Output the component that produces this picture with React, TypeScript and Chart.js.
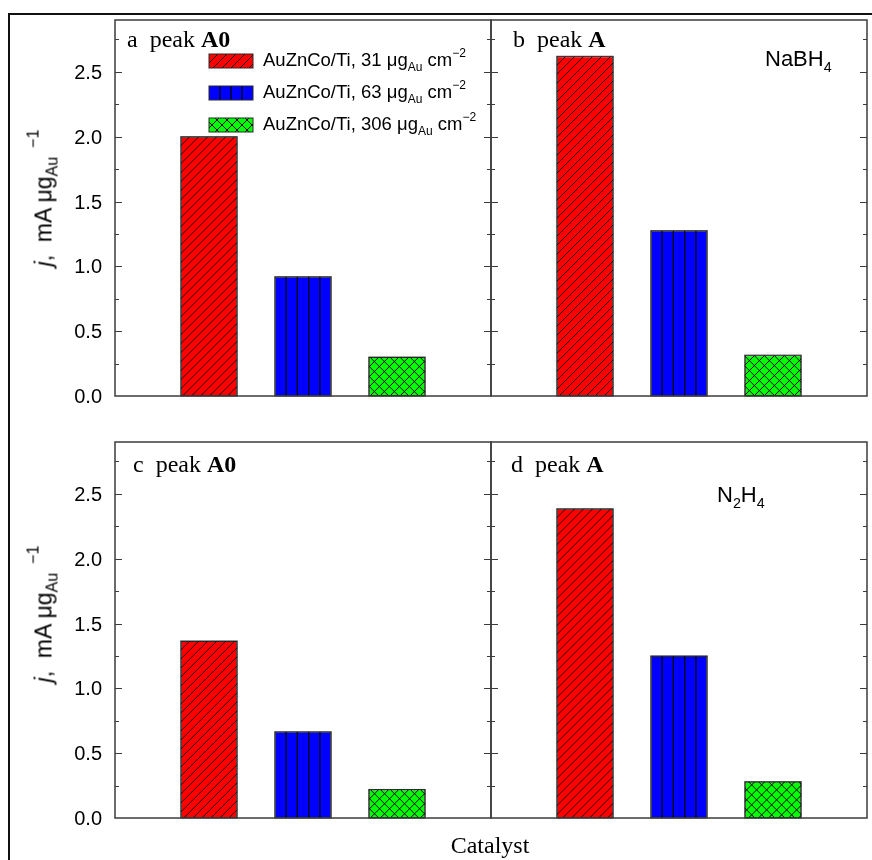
import React, { useEffect, useRef } from 'react';
import { Chart, registerables } from 'chart.js';

Chart.register(...registerables);

// ---------------- data ----------------
const categories = ['Catalyst'];
const loadings = ['31', '63', '306'];
const seriesColors = ['#ff0000', '#0000ff', '#00ff00'];
const seriesHatch = ['diag', 'vert', 'cross'];
const peakA0_NaBH4 = [2.0, 0.92, 0.3];
const peakA_NaBH4 = [2.62, 1.275, 0.315];
const peakA0_N2H4 = [1.365, 0.665, 0.22];
const peakA_N2H4 = [2.385, 1.25, 0.28];
const yMin = 0;
const yMax = 2.9;
const yStep = 0.5;
const yMinorStep = 0.25;

const SANS = '"Liberation Sans", Arial, sans-serif';
const SERIF = '"Liberation Serif", "Times New Roman", serif';

function drawHatch(ctx: CanvasRenderingContext2D, kind: string, l: number, t: number, r: number, b: number) {
  const h = b - t;
  const w = r - l;
  ctx.save();
  ctx.beginPath();
  ctx.rect(l, t, w, h);
  ctx.clip();
  ctx.strokeStyle = '#000';
  ctx.beginPath();
  if (kind === 'diag') {
    ctx.lineWidth = 0.9;
    const s = 9;
    for (let x0 = l - h - s; x0 < r + s; x0 += s) {
      ctx.moveTo(x0, b);
      ctx.lineTo(x0 + h, t);
    }
  } else if (kind === 'vert') {
    ctx.lineWidth = 1.3;
    const n = Math.max(1, Math.round(w / 11));
    for (let k = 1; k < n; k++) {
      const x = l + (w * k) / n;
      ctx.moveTo(x, t);
      ctx.lineTo(x, b);
    }
  } else if (kind === 'cross') {
    ctx.lineWidth = 1;
    const s = 10;
    for (let x0 = l - h - s; x0 < r + s; x0 += s) {
      ctx.moveTo(x0, b);
      ctx.lineTo(x0 + h, t);
      ctx.moveTo(x0, t);
      ctx.lineTo(x0 + h, b);
    }
  }
  ctx.stroke();
  ctx.restore();
}

const hatchPlugin = {
  id: 'hatchBars',
  afterDatasetsDraw(chart: any) {
    const ctx = chart.ctx;
    chart.data.datasets.forEach((ds: any, i: number) => {
      const meta = chart.getDatasetMeta(i);
      meta.data.forEach((el: any) => {
        const { x, y, base, width } = el.getProps(['x', 'y', 'base', 'width'], true);
        const l = x - width / 2;
        const r = x + width / 2;
        const t = Math.min(y, base);
        const b = Math.max(y, base);
        drawHatch(ctx, ds.hatch, l, t, r, b);
        ctx.save();
        ctx.strokeStyle = '#2a2a2a';
        ctx.lineWidth = 1;
        ctx.strokeRect(l, t, r - l, b - t);
        ctx.restore();
      });
    });
  },
};

const framePlugin = {
  id: 'panelFrame',
  afterDatasetsDraw(chart: any) {
    const { ctx, chartArea } = chart;
    const { left, top, right, bottom } = chartArea;
    const ys = chart.scales.y;
    ctx.save();
    ctx.strokeStyle = '#3c3c3c';
    ctx.lineWidth = 1.5;
    ctx.strokeRect(left, top, right - left, bottom - top);
    ctx.lineWidth = 1;
    ctx.beginPath();
    for (let k = 1; k * yMinorStep <= yMax + 1e-9; k++) {
      const v = k * yMinorStep;
      const y = Math.round(ys.getPixelForValue(v)) + 0.5;
      const len = k % 2 === 0 ? 7 : 4;
      ctx.moveTo(left, y);
      ctx.lineTo(left + len, y);
      ctx.moveTo(right, y);
      ctx.lineTo(right - len, y);
    }
    ctx.stroke();
    ctx.restore();
  },
};

const legendPlugin = {
  id: 'hatchLegend',
  afterDraw(chart: any) {
    const { ctx, chartArea } = chart;
    chart.data.datasets.forEach((ds: any, i: number) => {
      const l = chartArea.left + 94;
      const t = chartArea.top + 34 + i * 32;
      const w = 44;
      const h = 14;
      ctx.save();
      ctx.fillStyle = ds.backgroundColor;
      ctx.fillRect(l, t, w, h);
      ctx.restore();
      drawHatch(ctx, ds.hatch, l, t, l + w, t + h);
      ctx.save();
      ctx.strokeStyle = '#2a2a2a';
      ctx.lineWidth = 1;
      ctx.strokeRect(l, t, w, h);
      ctx.restore();
    });
  },
};

type PanelProps = { values: number[]; left: number; top: number; showY: boolean; legend?: boolean };

function Panel({ values, left, top, showY, legend }: PanelProps) {
  const ref = useRef<HTMLCanvasElement | null>(null);
  useEffect(() => {
    if (!ref.current) return;
    const plugins: any[] = [hatchPlugin, framePlugin];
    if (legend) plugins.push(legendPlugin);
    const chart = new Chart(ref.current, {
      type: 'bar',
      data: {
        labels: categories,
        datasets: loadings.map((l, i) => ({
          label: `AuZnCo/Ti, ${l} μgAu cm−2`,
          data: [values[i]],
          backgroundColor: seriesColors[i],
          borderColor: '#2a2a2a',
          borderWidth: 1,
          borderSkipped: false,
          categoryPercentage: 0.75,
          barPercentage: 0.6,
          hatch: seriesHatch[i],
        })) as any,
      },
      options: {
        responsive: false,
        animation: false,
        devicePixelRatio: 1,
        layout: { padding: { left: 0, top: 20, right: 9, bottom: 34 } },
        plugins: { legend: { display: false }, tooltip: { enabled: false } },
        scales: {
          x: { display: false },
          y: {
            min: yMin,
            max: yMax,
            afterFit: (s: any) => {
              s.width = 115;
              s.paddingTop = 0;
              s.paddingBottom = 0;
            },
            grid: { display: false, drawTicks: false },
            border: { display: false },
            ticks: {
              display: showY,
              stepSize: yStep,
              includeBounds: false,
              padding: 13,
              labelOffset: 1.5,
              color: '#000',
              font: { family: SANS, size: 20 },
              callback: (v: any) => Number(v).toFixed(1),
            },
          },
        },
      } as any,
      plugins,
    });
    return () => chart.destroy();
  }, []);
  return (
    <canvas
      ref={ref}
      width={500}
      height={430}
      style={{ position: 'absolute', left: left - 115, top: top - 20, width: 500, height: 430 }}
    />
  );
}

const Sub = ({ children }: any) => (
  <span style={{ fontSize: '0.65em', position: 'relative', top: '0.4em', verticalAlign: 'baseline' }}>{children}</span>
);
const Sup = ({ children }: any) => (
  <span style={{ fontSize: '0.65em', position: 'relative', top: '-0.75em', verticalAlign: 'baseline' }}>{children}</span>
);

function Label({ x, base, size, family, anchor, children, style }: any) {
  const top = base - 0.845 * size;
  return (
    <div
      style={{
        position: 'absolute',
        left: x,
        top,
        fontSize: size,
        fontFamily: family,
        lineHeight: 1,
        whiteSpace: 'nowrap',
        color: '#000',
        transform: anchor === 'middle' ? 'translateX(-50%)' : 'none',
        ...style,
      }}
    >
      {children}
    </div>
  );
}

function YTitle({ cy }: { cy: number }) {
  return (
    <div
      style={{
        position: 'absolute',
        left: 44,
        top: cy,
        transform: 'translate(-50%,-50%) rotate(-90deg)',
        fontFamily: SANS,
        fontSize: 23,
        lineHeight: 1,
        whiteSpace: 'nowrap',
        color: '#000',
      }}
    >
      <i>j</i>,{'\u00a0\u00a0'}mA μg
      <span style={{ fontSize: '0.7em', position: 'relative', top: '0.4em' }}>Au</span>
      <span style={{ fontSize: '0.7em', position: 'relative', top: '-0.8em' }}>{'\u00a0\u00a0\u2212'}1</span>
    </div>
  );
}

export default function App() {
  return (
    <div style={{ position: 'absolute', left: 0, top: 0, width: 872, height: 860, overflow: 'hidden', background: '#fff' }}>
      <div
        style={{
          position: 'absolute',
          left: 8,
          top: 13,
          width: 900,
          height: 900,
          borderTop: '2px solid #111',
          borderLeft: '2px solid #111',
        }}
      />
      <Panel values={peakA0_NaBH4} left={115} top={20} showY={true} legend={true} />
      <Panel values={peakA_NaBH4} left={491} top={20} showY={false} />
      <Panel values={peakA0_N2H4} left={115} top={442} showY={true} />
      <Panel values={peakA_N2H4} left={491} top={442} showY={false} />

      <Label x={127} base={47} size={24} family={SERIF}>
        a{'\u00a0\u00a0'}peak <b>A0</b>
      </Label>
      <Label x={513} base={47} size={24} family={SERIF}>
        b{'\u00a0\u00a0'}peak <b>A</b>
      </Label>
      <Label x={133} base={472} size={24} family={SERIF}>
        c{'\u00a0\u00a0'}peak <b>A0</b>
      </Label>
      <Label x={511} base={472} size={24} family={SERIF}>
        d{'\u00a0\u00a0'}peak <b>A</b>
      </Label>

      {loadings.map((l, i) => (
        <Label key={l} x={263} base={67 + i * 32} size={18.5} family={SANS}>
          AuZnCo/Ti, {l} μg<Sub>Au</Sub> cm<Sup>{'\u2212'}2</Sup>
        </Label>
      ))}

      <Label x={765} base={67} size={22} family={SANS}>
        NaBH<Sub>4</Sub>
      </Label>
      <Label x={717} base={503} size={22} family={SANS}>
        N<Sub>2</Sub>H<Sub>4</Sub>
      </Label>

      <YTitle cy={198} />
      <YTitle cy={614} />

      <Label x={490} base={853} size={24} family={SERIF} anchor="middle">
        Catalyst
      </Label>
    </div>
  );
}
